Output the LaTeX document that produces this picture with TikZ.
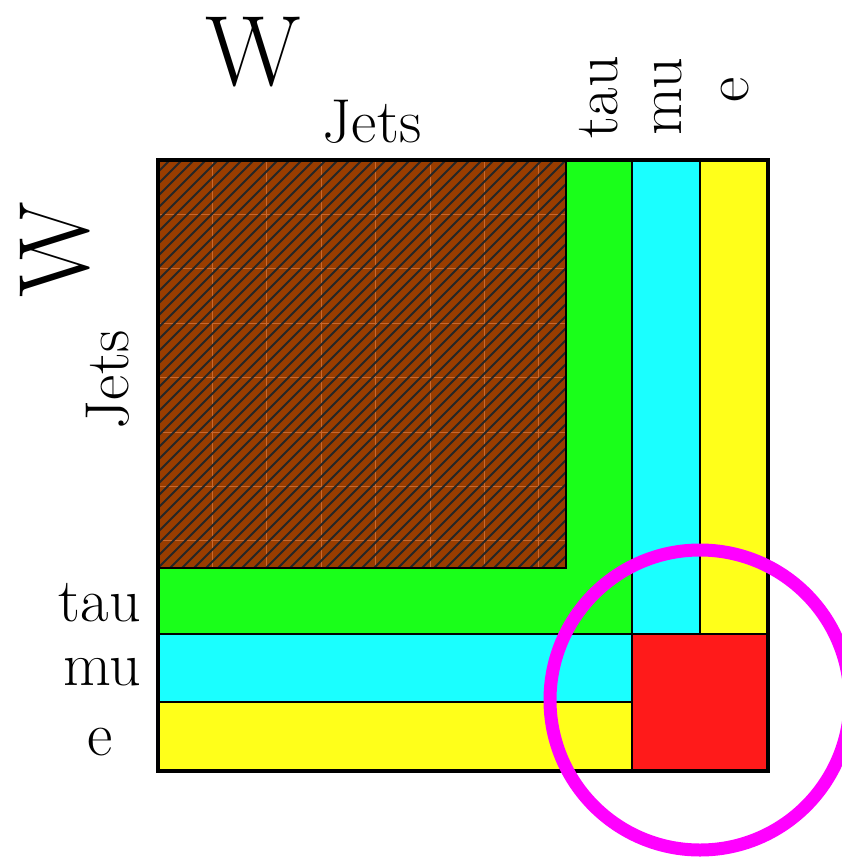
\documentclass[tikz,border=0pt]{standalone}
\usepackage{xcolor}
\usepackage{tikz}

\definecolor{jetbrown}{HTML}{993D00}
\definecolor{gridorange}{HTML}{C8682E}
\definecolor{taugreen}{HTML}{1AFF1A}
\definecolor{mucyan}{HTML}{1AFFFF}
\definecolor{eyellow}{HTML}{FFFF1A}
\definecolor{wred}{HTML}{FF1A1A}
\definecolor{ringmagenta}{HTML}{FF00FF}

\begin{document}
\begin{tikzpicture}[
  x=1pt, y=-1pt,
  lab/.style={font=\fontsize{62}{62}\selectfont, inner sep=0pt},
  bigw/.style={font=\fontsize{100}{100}\selectfont, inner sep=0pt},
  edge/.style={draw=black, line width=1.6pt},
  hatch/.style={draw=black!85, line width=2pt},
  faint/.style={draw=gridorange, line width=0.8pt}
]
\useasboundingbox (0,0) rectangle (842,857);
\clip (0,0) rectangle (842,857);

% bands, back to front
\fill[eyellow] (158,160) rectangle (768,771);
\fill[mucyan] (158,160) rectangle (700,702);
\fill[taugreen] (158,160) rectangle (632,634);
\fill[jetbrown] (158,160) rectangle (566,568);
\fill[wred] (632,634) rectangle (768,771);

% jet block: faint grid and hatching
\begin{scope}
  \clip (158,160) rectangle (566,568);
  \foreach \k in {1,...,7} {
    \draw[faint] (158+54.4*\k,160) -- (158+54.4*\k,568);
    \draw[faint] (158,160+54.4*\k) -- (566,160+54.4*\k);
  }
  \foreach \i in {-420,-408,...,420}
    \draw[hatch] (158+\i,568) -- (566+\i,160);
\end{scope}
\draw[edge] (158,160) rectangle (566,568);

% band borders
\draw[edge] (632,160) -- (632,634) -- (158,634);
\draw[edge] (700,160) -- (700,634);
\draw[edge] (158,702) -- (632,702);
\draw[edge] (632,634) rectangle (768,771);
\draw[line width=4pt] (158,160) rectangle (768,771);

% labels
\node[bigw] (wtop) at (253,52) {W};
\node[bigw, rotate=90] (wleft) at (55,250) {W};
\node[lab] (jtop) at (372,122) {Jets};
\node[lab, rotate=90] (jleft) at (108,380) {Jets};
\node[lab, rotate=90] (ttop) at (599,97) {tau};
\node[lab, rotate=90] (mtop) at (668,97) {mu};
\node[lab, rotate=90] (etop) at (735,90) {e};
\node[lab] (tleft) at (100,603) {tau};
\node[lab] (mleft) at (102,672) {mu};
\node[lab] (eleft) at (100,742) {e};

% highlight
\draw[ringmagenta, line width=13pt] (700,700) circle (150);
\end{tikzpicture}
\end{document}
